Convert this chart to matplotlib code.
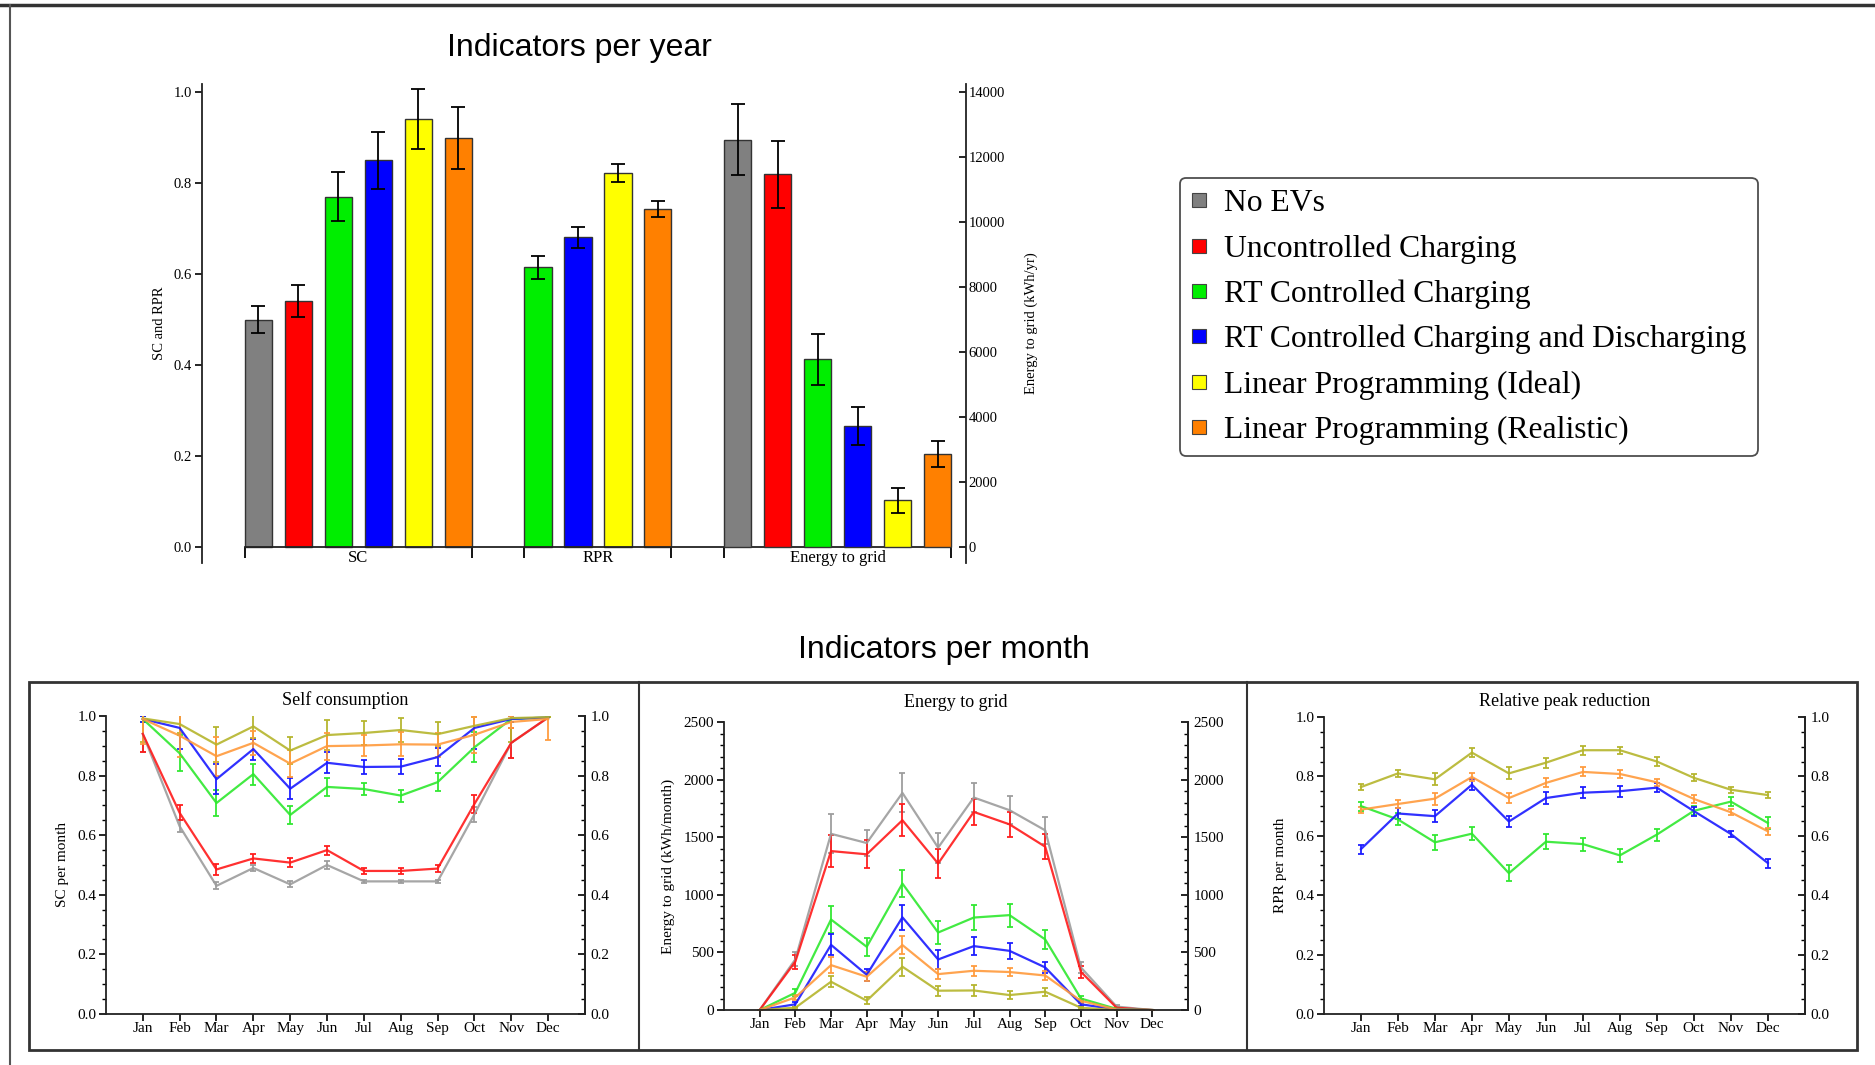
import matplotlib
matplotlib.use("Agg")
import matplotlib.pyplot as plt
from matplotlib.lines import Line2D
from matplotlib.patches import Rectangle
from matplotlib.ticker import MultipleLocator

plt.rcParams['font.family'] = ['Liberation Serif', 'DejaVu Serif']
TITLE_FONT = ['Liberation Sans Narrow', 'Liberation Sans', 'DejaVu Sans']

# scenarios and colours
scenarios = ["No EVs", "Uncontrolled Charging", "RT Controlled Charging",
             "RT Controlled Charging and Discharging",
             "Linear Programming (Ideal)", "Linear Programming (Realistic)"]
bar_colors = ['#808080', '#ff0000', '#00ee00', '#0000ff', '#ffff00', '#ff8000']
line_colors = ['#9c9c9c', '#ff1a1a', '#2ee82e', '#1a1aff', '#b5b52c', '#ff9a3c']

# yearly indicators
sc_year = [0.50, 0.54, 0.77, 0.85, 0.94, 0.90]
sc_year_err = [0.030, 0.035, 0.054, 0.062, 0.066, 0.068]
rpr_idx = [2, 3, 4, 5]
rpr_year = [0.615, 0.681, 0.822, 0.743]
rpr_year_err = [0.025, 0.023, 0.019, 0.017]
grid_year = [12540, 11470, 5780, 3740, 1440, 2860]
grid_year_err = [1100, 1040, 780, 585, 390, 395]

months = ['Jan', 'Feb', 'Mar', 'Apr', 'May', 'Jun',
          'Jul', 'Aug', 'Sep', 'Oct', 'Nov', 'Dec']

# monthly self consumption, one row per scenario
sc_month = [
    [0.94, 0.63, 0.43, 0.49, 0.435, 0.50, 0.445, 0.445, 0.445, 0.67, 0.91, 0.995],
    [0.94, 0.675, 0.485, 0.522, 0.508, 0.55, 0.48, 0.48, 0.488, 0.705, 0.91, 0.995],
    [0.99, 0.875, 0.708, 0.805, 0.668, 0.762, 0.755, 0.733, 0.778, 0.895, 0.99, 0.995],
    [0.99, 0.96, 0.788, 0.889, 0.756, 0.843, 0.829, 0.83, 0.862, 0.96, 0.99, 0.995],
    [0.992, 0.973, 0.904, 0.965, 0.884, 0.936, 0.943, 0.953, 0.939, 0.967, 0.993, 0.996],
    [0.99, 0.934, 0.865, 0.91, 0.84, 0.899, 0.901, 0.905, 0.904, 0.937, 0.98, 0.99],
]
sc_month_err = [
    [0.06, 0.02, 0.012, 0.01, 0.01, 0.012, 0.006, 0.006, 0.006, 0.025, 0.05, 0.0],
    [0.06, 0.025, 0.02, 0.015, 0.015, 0.015, 0.01, 0.01, 0.013, 0.03, 0.05, 0.0],
    [0.01, 0.06, 0.045, 0.035, 0.03, 0.03, 0.02, 0.02, 0.03, 0.05, 0.01, 0.0],
    [0.01, 0.07, 0.05, 0.035, 0.035, 0.035, 0.025, 0.025, 0.03, 0.07, 0.01, 0.0],
    [0.08, 0.03, 0.06, 0.04, 0.045, 0.05, 0.04, 0.04, 0.04, 0.03, 0.08, 0.0],
    [0.085, 0.07, 0.065, 0.04, 0.045, 0.045, 0.035, 0.04, 0.04, 0.06, 0.02, 0.07],
]

# monthly energy to grid (kWh/month)
grid_month = [
    [0, 440, 1530, 1450, 1885, 1410, 1845, 1735, 1560, 370, 30, 0],
    [0, 420, 1380, 1352, 1648, 1272, 1720, 1612, 1418, 332, 20, 0],
    [0, 150, 786, 549, 1098, 673, 803, 824, 613, 100, 10, 0],
    [0, 50, 566, 306, 805, 439, 555, 514, 370, 50, 5, 0],
    [0, 20, 246, 81, 376, 168, 170, 130, 159, 20, 0, 0],
    [0, 110, 390, 289, 564, 312, 341, 330, 300, 80, 5, 0],
]
grid_month_err = [
    [0, 60, 170, 115, 170, 130, 130, 120, 120, 50, 10, 0],
    [0, 60, 140, 120, 140, 130, 110, 110, 110, 50, 10, 0],
    [0, 30, 120, 80, 120, 100, 110, 100, 80, 20, 5, 0],
    [0, 20, 90, 50, 110, 80, 80, 70, 50, 15, 0, 0],
    [0, 10, 50, 30, 80, 45, 50, 35, 35, 10, 0, 0],
    [0, 20, 70, 40, 80, 40, 45, 35, 35, 20, 0, 0],
]

# monthly relative peak reduction (only for controlled scenarios)
rpr_month = [
    [0.70, 0.655, 0.578, 0.607, 0.474, 0.58, 0.572, 0.534, 0.604, 0.684, 0.715, 0.643],
    [0.555, 0.675, 0.666, 0.772, 0.648, 0.727, 0.745, 0.75, 0.762, 0.683, 0.606, 0.508],
    [0.764, 0.81, 0.79, 0.88, 0.81, 0.846, 0.888, 0.888, 0.85, 0.795, 0.755, 0.737],
    [0.688, 0.707, 0.725, 0.798, 0.727, 0.778, 0.815, 0.808, 0.78, 0.724, 0.679, 0.615],
]
rpr_month_err = [
    [0.015, 0.02, 0.025, 0.022, 0.027, 0.025, 0.022, 0.022, 0.02, 0.015, 0.015, 0.02],
    [0.015, 0.02, 0.02, 0.018, 0.02, 0.02, 0.018, 0.018, 0.015, 0.015, 0.01, 0.015],
    [0.01, 0.012, 0.02, 0.015, 0.02, 0.017, 0.015, 0.012, 0.015, 0.012, 0.01, 0.01],
    [0.01, 0.015, 0.02, 0.015, 0.018, 0.015, 0.015, 0.012, 0.012, 0.012, 0.01, 0.012],
]

fig = plt.figure(figsize=(18.75, 10.65), dpi=100)

# ---------------- yearly bar chart ----------------
ax = fig.add_axes([0.1077, 0.4718, 0.4075, 0.4494])
ax2 = ax.twinx()
bw = 0.68
groups = [list(range(6)), rpr_idx, list(range(6))]
starts = []
s = 0
for g in groups:
    starts.append(s)
    s += len(g) + 1
pos_sc = [starts[0] + i for i in range(6)]
pos_rpr = [starts[1] + i for i in range(len(rpr_idx))]
pos_grid = [starts[2] + i for i in range(6)]

ekw = dict(ecolor='black', capsize=5, elinewidth=1.3, capthick=1.3)
ax.bar(pos_sc, sc_year, bw, yerr=sc_year_err, color=bar_colors,
       edgecolor='#333333', linewidth=1.0, error_kw=ekw, zorder=2)
ax.bar(pos_rpr, rpr_year, bw, yerr=rpr_year_err,
       color=[bar_colors[i] for i in rpr_idx],
       edgecolor='#333333', linewidth=1.0, error_kw=ekw, zorder=2)
ax2.bar(pos_grid, grid_year, bw, yerr=grid_year_err, color=bar_colors,
        edgecolor='#333333', linewidth=1.0, error_kw=ekw, zorder=2)

ax.set_xlim(-1.41, 17.71)
ax.set_ylim(-0.034, 1.018)
ax2.set_ylim(-0.034 * 14000, 1.018 * 14000)
ax.set_yticks([0, 0.2, 0.4, 0.6, 0.8, 1.0])
ax2.set_yticks(range(0, 14001, 2000))

for sp in ['top', 'right']:
    ax.spines[sp].set_visible(False)
for sp in ['top', 'left', 'bottom']:
    ax2.spines[sp].set_visible(False)
ax.spines['bottom'].set_position(('data', 0))
ax.spines['bottom'].set_bounds(pos_sc[0] - bw / 2, pos_grid[-1] + bw / 2)
for s_ in (ax.spines['bottom'], ax.spines['left'], ax2.spines['right']):
    s_.set_color('#222222')
    s_.set_linewidth(1.3)

edges = []
centers = []
for p in (pos_sc, pos_rpr, pos_grid):
    edges += [p[0] - bw / 2, p[-1] + bw / 2]
    centers.append((p[0] + p[-1]) / 2)
ax.set_xticks(edges)
ax.set_xticklabels([])
ax.set_xticks(centers, minor=True)
ax.set_xticklabels(['SC', 'RPR', 'Energy to grid'], minor=True, fontsize=12)
ax.tick_params(axis='x', which='major', direction='out', length=8, width=1.3)
ax.tick_params(axis='x', which='minor', length=0, pad=2)
ax.tick_params(axis='y', direction='out', length=5, width=1.2, labelsize=10.5, pad=2)
ax2.tick_params(axis='y', direction='in', length=5, width=1.2, labelsize=10.5, pad=2)
ax.set_ylabel('SC and RPR', fontsize=10.5, labelpad=6)
ax2.set_ylabel('Energy to grid (kWh/yr)', fontsize=10.5, labelpad=14)

fig.text(579 / 1875, 1 - 48 / 1065, 'Indicators per year', family=TITLE_FONT,
         fontsize=23, ha='center', va='center')

handles = [Line2D([], [], marker='s', linestyle='None', markersize=10,
                  markerfacecolor=c, markeredgecolor='#444444', markeredgewidth=0.8)
           for c in bar_colors]
leg = fig.legend(handles, scenarios, loc='upper left',
                 bbox_to_anchor=(1180 / 1875, 1 - 178 / 1065),
                 borderaxespad=0, fontsize=22.8, frameon=True, fancybox=True,
                 handlelength=0.5, handletextpad=0.55, labelspacing=0.5,
                 borderpad=0.35)
leg.get_frame().set_edgecolor('#222222')
leg.get_frame().set_linewidth(1.3)

# ---------------- monthly panels ----------------
fig.text(944 / 1875, 1 - 650 / 1065, 'Indicators per month', family=TITLE_FONT,
         fontsize=23, ha='center', va='center')


def month_panel(rect, data, errs, cols, ylim, major, minor, ylabel, title, tpad):
    a = fig.add_axes(rect)
    x = list(range(12))
    for vals, e, c in zip(data, errs, cols):
        a.errorbar(x, vals, yerr=e, color=c, lw=1.6, elinewidth=1.4,
                   capsize=2.5, capthick=1.4, alpha=0.9)
    a.set_xlim(-1, 12)
    a.set_ylim(*ylim)
    a.set_xticks(x)
    a.set_xticklabels(months)
    a.yaxis.set_major_locator(MultipleLocator(major))
    a.yaxis.set_minor_locator(MultipleLocator(minor))
    a.spines['top'].set_visible(False)
    for sp in ['left', 'right', 'bottom']:
        a.spines[sp].set_color('#222222')
        a.spines[sp].set_linewidth(1.3)
    a.tick_params(axis='x', direction='out', length=5, width=1.2, labelsize=11, pad=1)
    a.tick_params(axis='y', which='major', direction='out', length=5, width=1.2,
                  labelsize=11, pad=2)
    a.tick_params(axis='y', which='minor', direction='out', length=3, width=1.0)
    sec = a.secondary_yaxis('right')
    sec.yaxis.set_major_locator(MultipleLocator(major))
    sec.yaxis.set_minor_locator(MultipleLocator(minor))
    sec.tick_params(axis='y', which='major', direction='in', length=5, width=1.2,
                    labelsize=11, pad=4)
    sec.tick_params(axis='y', which='minor', direction='in', length=3, width=1.0)
    sec.spines['right'].set_color('#222222')
    sec.spines['right'].set_linewidth(1.3)
    if major < 1:
        a.yaxis.set_major_formatter('{x:.1f}')
        sec.yaxis.set_major_formatter('{x:.1f}')
    a.set_ylabel(ylabel, fontsize=11, labelpad=6)
    a.set_title(title, fontsize=13, pad=tpad)
    return a


month_panel([0.0565, 0.0479, 0.2555, 0.2798], sc_month, sc_month_err,
            line_colors, (0, 1), 0.2, 0.05, 'SC per month', 'Self consumption', 8)
month_panel([0.3861, 0.0516, 0.2475, 0.2704], grid_month, grid_month_err,
            line_colors, (0, 2500), 500, 100, 'Energy to grid (kWh/month)',
            'Energy to grid', 11)
month_panel([0.7061, 0.0479, 0.2565, 0.2789], rpr_month, rpr_month_err,
            [line_colors[i] for i in rpr_idx], (0, 1), 0.2, 0.05,
            'RPR per month', 'Relative peak reduction', 8)

# frames around the figure and the monthly row
fig.add_artist(Rectangle((29 / 1875, 1 - 1050 / 1065), (1857 - 29) / 1875,
                         (1050 - 682) / 1065, transform=fig.transFigure,
                         fill=False, edgecolor='#333333', linewidth=2))
for xd in (639, 1247):
    fig.add_artist(Line2D([xd / 1875, xd / 1875], [1 - 1050 / 1065, 1 - 682 / 1065],
                          transform=fig.transFigure, color='#333333', lw=1.5))
fig.add_artist(Line2D([0, 1], [1 - 5 / 1065, 1 - 5 / 1065],
                      transform=fig.transFigure, color='#333333', lw=2.5))
fig.add_artist(Line2D([10 / 1875, 10 / 1875], [0, 1 - 5 / 1065],
                      transform=fig.transFigure, color='#555555', lw=1.5))

fig.savefig('out.png', dpi=100)
